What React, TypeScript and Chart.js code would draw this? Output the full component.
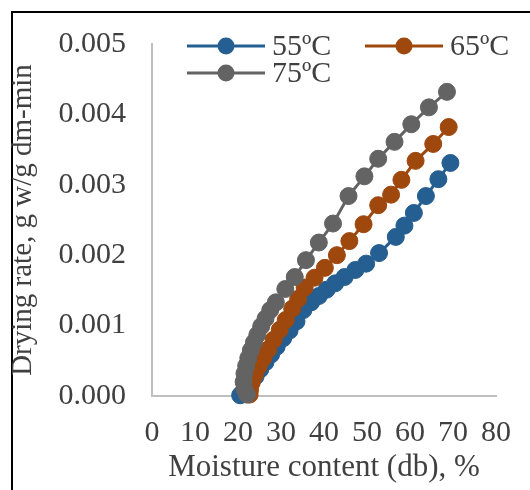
import React, { useEffect, useRef } from 'react';
import { Chart, registerables } from 'chart.js';

Chart.register(...registerables);

// ---- Data ----
const seriesLabels = ['55ºC', '65ºC', '75ºC'];
const seriesColors = ['#255E91', '#9E480E', '#636363'];

const moisture55 = [69.4, 66.6, 63.7, 60.9, 58.7, 56.7, 52.8, 49.8, 47.3, 44.8, 42.6, 40.6, 38.8, 37.0, 35.2, 33.6, 32.0, 30.5, 29.0, 27.7, 26.4, 25.2, 24.1, 23.0, 22.0, 21.1, 20.5];
const rate55 = [0.00331, 0.00308, 0.00284, 0.0026, 0.00242, 0.00226, 0.00203, 0.00188, 0.00179, 0.00169, 0.0016, 0.00151, 0.00142, 0.00133, 0.00122, 0.00106, 0.00093, 0.00082, 0.0007, 0.00059, 0.00048, 0.00038, 0.00028, 0.00019, 0.00011, 0.00005, 0.00001];

const moisture65 = [69.0, 65.4, 61.3, 58.0, 55.6, 52.6, 49.2, 45.9, 43.0, 40.2, 37.8, 35.5, 34.0, 32.6, 31.1, 29.7, 28.3, 27.0, 25.9, 24.8, 23.9, 23.2, 22.8, 22.7];
const rate65 = [0.00382, 0.00358, 0.00334, 0.00307, 0.00286, 0.00271, 0.00244, 0.0022, 0.002, 0.00182, 0.00168, 0.00154, 0.00138, 0.00124, 0.00108, 0.00094, 0.0008, 0.00066, 0.00054, 0.00042, 0.0003, 0.00019, 0.00009, 0.00002];

const moisture75 = [68.6, 64.4, 60.3, 56.4, 52.6, 49.4, 45.7, 42.1, 38.8, 35.8, 33.2, 31.0, 28.8, 27.5, 26.4, 25.4, 24.5, 23.7, 23.0, 22.4, 21.9, 21.5, 21.3, 21.5, 22.1];
const rate75 = [0.00432, 0.0041, 0.00386, 0.00361, 0.00337, 0.00312, 0.00284, 0.00245, 0.00218, 0.00193, 0.00169, 0.00152, 0.00133, 0.00122, 0.0011, 0.00099, 0.00087, 0.00076, 0.00065, 0.00054, 0.00043, 0.00032, 0.0002, 0.0001, 0.00002];

const xTickMin = 0;
const xTickMax = 80;
const xTickStep = 10;
const yTickMin = 0;
const yTickMax = 0.005;
const yTickStep = 0.001;

const xTitle = 'Moisture content (db), %';
const yTitle = 'Drying rate, g w/g dm-min';

const FONT_FAMILY = '"Liberation Serif", "Times New Roman", serif';
const TEXT_COLOR = '#404040';
const AXIS_COLOR = '#bfbfbf';

const toPoints = (xs: number[], ys: number[]) => xs.map((x, i) => ({ x, y: ys[i] }));

const framePlugin = {
  id: 'frame',
  beforeDraw(chart: any) {
    const ctx = chart.ctx;
    ctx.save();
    ctx.fillStyle = '#ffffff';
    ctx.fillRect(0, 0, chart.width, chart.height);
    ctx.fillStyle = '#000000';
    ctx.fillRect(11, 11, 2, chart.height - 11);
    ctx.fillRect(11, 11, chart.width - 11, 2);
    ctx.restore();
  },
};

const legendPlugin = {
  id: 'lineMarkerLegend',
  afterDraw(chart: any) {
    const ctx = chart.ctx;
    const slots = [
      { i: 0, x: 187, y: 46 },
      { i: 1, x: 365, y: 46 },
      { i: 2, x: 187, y: 73 },
    ];
    ctx.save();
    slots.forEach(({ i, x, y }) => {
      const ds = chart.data.datasets[i];
      ctx.strokeStyle = ds.borderColor;
      ctx.lineWidth = 3;
      ctx.beginPath();
      ctx.moveTo(x, y);
      ctx.lineTo(x + 78, y);
      ctx.stroke();
      ctx.fillStyle = ds.pointBackgroundColor;
      ctx.beginPath();
      ctx.arc(x + 39, y, 8.5, 0, Math.PI * 2);
      ctx.fill();
      ctx.fillStyle = TEXT_COLOR;
      ctx.font = `30px ${FONT_FAMILY}`;
      ctx.textBaseline = 'middle';
      ctx.textAlign = 'left';
      ctx.fillText(ds.label, x + 85, y + 1);
    });
    ctx.restore();
  },
};

export default function App() {
  const canvasRef = useRef<HTMLCanvasElement | null>(null);

  useEffect(() => {
    if (!canvasRef.current) return;
    const seriesX = [moisture55, moisture65, moisture75];
    const seriesY = [rate55, rate65, rate75];
    const datasets = seriesLabels.map((label, i) => ({
      label,
      data: toPoints(seriesX[i], seriesY[i]),
      showLine: true,
      borderColor: seriesColors[i],
      backgroundColor: seriesColors[i],
      pointBackgroundColor: seriesColors[i],
      pointBorderColor: seriesColors[i],
      borderWidth: 3,
      pointRadius: 8.5,
      pointBorderWidth: 1,
      tension: 0,
      clip: false as any,
      order: 3 - i,
    }));

    const tickFont = { family: FONT_FAMILY, size: 30 };
    const xTitleFont = { family: FONT_FAMILY, size: 31 };
    const yTitleFont = { family: FONT_FAMILY, size: 29 };

    const chart = new Chart(canvasRef.current, {
      type: 'scatter',
      data: { datasets },
      options: {
        animation: false,
        responsive: false,
        layout: { padding: { left: 0, top: 42, right: 17, bottom: 0 } },
        plugins: {
          legend: { display: false },
          tooltip: { enabled: false },
        },
        scales: {
          x: {
            type: 'linear',
            min: xTickMin,
            max: xTickMax,
            ticks: { stepSize: xTickStep, padding: 19, color: TEXT_COLOR, font: tickFont },
            grid: { display: false, drawTicks: false },
            border: { display: true, color: AXIS_COLOR, width: 2 },
            title: {
              display: true,
              text: xTitle,
              color: TEXT_COLOR,
              font: xTitleFont,
              padding: { top: 0, bottom: 4 },
            },
            afterFit: (s: any) => {
              s.height = 94;
            },
          },
          y: {
            type: 'linear',
            min: yTickMin,
            max: yTickMax,
            ticks: {
              stepSize: yTickStep,
              padding: 26,
              color: TEXT_COLOR,
              font: tickFont,
              callback: (v: any) => Number(v).toFixed(3),
            },
            grid: { display: false, drawTicks: false },
            border: { display: true, color: AXIS_COLOR, width: 2 },
            title: {
              display: true,
              text: yTitle,
              color: TEXT_COLOR,
              font: yTitleFont,
              padding: { top: 6, bottom: 0 },
            },
            afterFit: (s: any) => {
              s.width = 152;
            },
          },
        },
      } as any,
      plugins: [framePlugin, legendPlugin],
    });
    return () => chart.destroy();
  }, []);

  return (
    <canvas
      ref={canvasRef}
      width={530}
      height={490}
      style={{ position: 'absolute', left: 0, top: 0, display: 'block' }}
    />
  );
}
